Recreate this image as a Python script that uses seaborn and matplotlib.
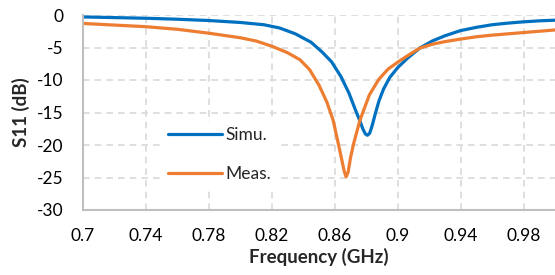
from matplotlib import pyplot as plt
from matplotlib.ticker import MultipleLocator
import seaborn as sns
import pandas as pd

# Simulated S11 (GHz, dB)
simu_freq = [0.70, 0.72, 0.74, 0.76, 0.78, 0.80, 0.815, 0.825, 0.835, 0.845,
             0.852, 0.858, 0.864, 0.869, 0.873, 0.876, 0.878, 0.8795, 0.8808,
             0.8822, 0.8838, 0.886, 0.888, 0.891, 0.895, 0.900, 0.906, 0.914,
             0.922, 0.930, 0.940, 0.950, 0.960, 0.970, 0.980, 0.990, 1.000]
simu_s11 = [-0.3, -0.4, -0.5, -0.65, -0.85, -1.15, -1.5, -2.0, -2.9, -4.2,
            -5.7, -7.2, -9.5, -12.0, -14.5, -16.3, -17.6, -18.3, -18.5,
            -18.2, -17.0, -15.0, -13.3, -11.4, -9.6, -8.1, -6.7, -5.1,
            -4.0, -3.2, -2.4, -1.9, -1.5, -1.25, -1.05, -0.9, -0.8]

# Measured S11 (GHz, dB)
meas_freq = [0.70, 0.72, 0.74, 0.76, 0.78, 0.80, 0.81, 0.82, 0.83, 0.838,
             0.844, 0.850, 0.855, 0.859, 0.862, 0.8645, 0.866, 0.8672, 0.8685,
             0.870, 0.872, 0.876, 0.882, 0.888, 0.894, 0.901, 0.908, 0.914,
             0.922, 0.930, 0.940, 0.950, 0.960, 0.970, 0.980, 0.990, 1.000]
meas_s11 = [-1.3, -1.55, -1.8, -2.2, -2.8, -3.5, -4.0, -4.8, -5.8, -6.9,
            -8.4, -10.8, -13.4, -16.2, -19.5, -22.3, -24.0, -24.9, -24.2,
            -22.0, -19.8, -16.2, -12.3, -9.9, -8.3, -7.1, -6.0, -5.1,
            -4.5, -4.1, -3.7, -3.35, -3.1, -2.9, -2.7, -2.5, -2.3]

x_ticks = [0.7, 0.74, 0.78, 0.82, 0.86, 0.9, 0.94, 0.98]
x_tick_labels = ["0.7", "0.74", "0.78", "0.82", "0.86", "0.9", "0.94", "0.98"]
y_ticks = [0, -5, -10, -15, -20, -25, -30]

df = pd.concat([
    pd.DataFrame({"freq": simu_freq, "s11": simu_s11, "series": "Simu."}),
    pd.DataFrame({"freq": meas_freq, "s11": meas_s11, "series": "Meas."}),
])

sns.set_style("white")
plt.rcParams["font.family"] = ["Lato", "DejaVu Sans"]
plt.rcParams["axes.unicode_minus"] = False

fig = plt.figure(figsize=(5.55, 2.75), dpi=100)
ax = fig.add_axes([83 / 555, 1 - 210 / 275, 472 / 555, 195 / 275])

sns.lineplot(ax=ax, data=df, x="freq", y="s11", hue="series",
             palette={"Simu.": "#0070C0", "Meas.": "#ED7D31"},
             linewidth=2.3, sort=False, estimator=None)

ax.set_xlim(0.7, 1.0)
ax.set_ylim(-30, 0)
ax.set_xticks(x_ticks)
ax.set_xticklabels(x_tick_labels)
ax.set_yticks(y_ticks)
ax.xaxis.set_minor_locator(MultipleLocator(0.008))
ax.yaxis.set_minor_locator(MultipleLocator(2))
ax.tick_params(which="major", length=0, labelsize=12.5, colors="#000000")
ax.tick_params(axis="y", which="major", pad=14)
ax.tick_params(axis="x", which="major", pad=13)
ax.tick_params(which="minor", direction="in", length=4, width=1.2, color="#BFBFBF")
ax.grid(True, which="major", linestyle=(0, (4, 3)), color="#D9D9D9", linewidth=1.2)
ax.set_axisbelow(True)

for side in ["top", "right"]:
    ax.spines[side].set_visible(False)
for side in ["left", "bottom"]:
    ax.spines[side].set_color("#BFBFBF")
    ax.spines[side].set_linewidth(1.5)

ax.set_xlabel("Frequency (GHz)", fontsize=13.5, fontweight="bold", labelpad=3)
ax.set_ylabel("S11 (dB)", fontsize=13.5, fontweight="bold", labelpad=5)

leg = ax.legend(loc="center left", bbox_to_anchor=(0.17, 0.285), fontsize=12.5,
                handlelength=3.1, handletextpad=0.2, labelspacing=1.3,
                borderaxespad=0, borderpad=0.3, frameon=True, fancybox=False,
                framealpha=1, facecolor="white", edgecolor="none")

fig.savefig("out.png", dpi=100)
